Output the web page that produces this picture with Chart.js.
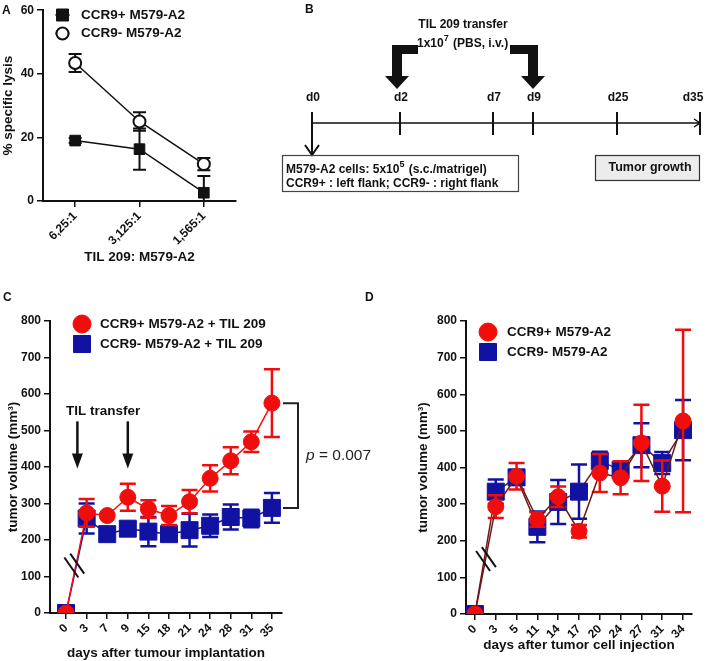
<!DOCTYPE html>
<html>
<head>
<meta charset="utf-8">
<title>CCR9 M579-A2 / TIL 209</title>
<script src="https://cdn.jsdelivr.net/npm/chart.js@4.4.1/dist/chart.umd.min.js"></script>
<style>
  body { margin: 0; background: #fff; }
  #wrap { position: relative; width: 709px; height: 661px; overflow: hidden; }
  canvas { position: absolute; }
  .tag { position: absolute; font: bold 12px 'Liberation Sans', Arial, sans-serif; color: #111; }
</style>
</head>
<body>
<div id="wrap">
  <canvas id="chartA" width="260" height="300" style="left:0;top:0"></canvas>
  <canvas id="chartB" width="439" height="200" style="left:270px;top:0"></canvas>
  <canvas id="chartC" width="380" height="376" style="left:0;top:285px"></canvas>
  <canvas id="chartD" width="309" height="376" style="left:400px;top:285px"></canvas>
  <div class="tag" style="left:2px;top:3px">A</div>
  <div class="tag" style="left:305px;top:2px">B</div>
  <div class="tag" style="left:3px;top:290px">C</div>
  <div class="tag" style="left:365px;top:290px">D</div>
</div>
<script>
// panel A - lysis
const ratioLabels = ['6,25:1', '3,125:1', '1,565:1'];
const lysisPos = [19, 16.3, 2.6];
const lysisPosErr = [0.8, 6.5, 5.3];
const lysisNeg = [43.4, 25, 11.6];
const lysisNegErr = [2.8, 2.9, 1.9];

// panel B - schedule
const timelineDays = ['d0', 'd2', 'd7', 'd9', 'd25', 'd35'];

// panel C - with TIL 209
const daysC = ['0', '3', '7', '9', '15', '18', '21', '24', '28', '31', '35'];
const volPosTil = [0, 274, 267, 317, 285, 267, 305, 369, 417, 469, 575];
const volPosTilErr = [0, 38, 0, 37, 24, 26, 32, 36, 37, 28, 93];
const volNegTil = [0, 259, 216, 231, 223, 216, 227, 239, 263, 259, 288];
const volNegTilErr = [0, 41, 8, 8, 40, 8, 45, 31, 34, 24, 41];

// panel D - no TIL
const daysD = ['0', '3', '5', '11', '14', '17', '20', '24', '27', '31', '34'];
const volPos = [0, 293, 376, 258, 320, 226, 385, 372, 467, 349, 527];
const volPosErr = [0, 31, 36, 20, 28, 17, 52, 45, 104, 70, 249];
const volNeg = [0, 334, 373, 238, 306, 334, 418, 393, 461, 412, 502];
const volNegErr = [0, 33, 20, 42, 60, 74, 25, 22, 60, 30, 82];

const FONT = "'Liberation Sans', Arial, sans-serif";
const RED = '#f20d0d';
const BLUE = '#1212a2';
const INK = '#111';

Chart.defaults.font.family = FONT;
Chart.defaults.font.weight = 'bold';
Chart.defaults.color = INK;
Chart.defaults.animation = false;
Chart.defaults.plugins.legend.display = false;
Chart.defaults.plugins.tooltip.enabled = false;

const yOf = d => (typeof d === 'object' ? d.y : d);
const toPoints = arr => arr.map((v, i) => ({ x: i, y: v }));

// error bars under each dataset's own markers
const errorBars = {
  id: 'errorBars',
  beforeDatasetDraw(chart, args) {
    const ds = chart.data.datasets[args.index];
    if (!ds.errors) return;
    const ctx = chart.ctx, a = chart.chartArea, y = chart.scales.y;
    ctx.save();
    ctx.beginPath();
    ctx.rect(a.left, 0, a.right - a.left, a.bottom);
    ctx.clip();
    ctx.strokeStyle = ds.errColor;
    ctx.lineWidth = ds.errWidth;
    args.meta.data.forEach((pt, i) => {
      const e = ds.errors[i];
      if (!e) return;
      const v = yOf(ds.data[i]);
      const hi = y.getPixelForValue(v + e);
      const lo = y.getPixelForValue(v - e);
      const w = ds.capWidth;
      ctx.beginPath();
      ctx.moveTo(pt.x, hi); ctx.lineTo(pt.x, lo);
      ctx.moveTo(pt.x - w, hi); ctx.lineTo(pt.x + w, hi);
      ctx.moveTo(pt.x - w, lo); ctx.lineTo(pt.x + w, lo);
      ctx.stroke();
    });
    ctx.restore();
  }
};

// legend drawn inside the plot
const keyBox = {
  id: 'keyBox',
  afterDraw(chart, args, o) {
    if (!o.x) return;
    const ctx = chart.ctx;
    chart.data.datasets.forEach((ds, i) => {
      const cx = o.x, cy = o.y + i * o.row, r = o.size[i];
      ctx.save();
      if (o.stub) {
        ctx.strokeStyle = ds.borderColor;
        ctx.lineWidth = 2;
        ctx.beginPath();
        ctx.moveTo(cx - o.stub, cy); ctx.lineTo(cx + o.stub, cy);
        ctx.stroke();
      }
      ctx.fillStyle = ds.pointBackgroundColor;
      ctx.strokeStyle = ds.pointBorderColor;
      ctx.lineWidth = ds.pointBorderWidth;
      ctx.beginPath();
      if (ds.pointStyle === 'rect') ctx.rect(cx - r, cy - r, 2 * r, 2 * r);
      else ctx.arc(cx, cy, r, 0, Math.PI * 2);
      ctx.fill();
      if (ds.pointBorderWidth) ctx.stroke();
      ctx.fillStyle = INK;
      ctx.font = 'bold ' + o.font + 'px ' + FONT;
      ctx.textBaseline = 'middle';
      ctx.textAlign = 'left';
      ctx.fillText(ds.label, o.tx, cy);
      ctx.restore();
    });
  }
};

// axis breaks, transfer arrows, p-value bracket
const notes = {
  id: 'notes',
  afterDatasetsDraw(chart, args, o) {
    const ctx = chart.ctx, a = chart.chartArea;
    const x = chart.scales.x, y = chart.scales.y;
    ctx.save();
    ctx.strokeStyle = INK;
    ctx.fillStyle = INK;
    if (o.brk) {
      const bx = x.getPixelForValue(o.brk[0]), by = y.getPixelForValue(o.brk[1]);
      ctx.lineWidth = 2;
      [-3.5, 3.5].forEach(d => {
        const ox = d * 0.83, oy = -d * 0.55;
        ctx.beginPath();
        ctx.moveTo(bx + ox - 7, by + oy - 10);
        ctx.lineTo(bx + ox + 7, by + oy + 10);
        ctx.stroke();
      });
    }
    (o.arrows || []).forEach(([xi, v0, v1]) => {
      const ax = x.getPixelForValue(xi), y0 = y.getPixelForValue(v0), y1 = y.getPixelForValue(v1);
      ctx.lineWidth = 2.5;
      ctx.beginPath(); ctx.moveTo(ax, y0); ctx.lineTo(ax, y1 - 12); ctx.stroke();
      ctx.beginPath();
      ctx.moveTo(ax - 5.5, y1 - 15); ctx.lineTo(ax + 5.5, y1 - 15); ctx.lineTo(ax, y1);
      ctx.closePath(); ctx.fill();
    });
    if (o.label) {
      ctx.font = 'bold 13.5px ' + FONT;
      ctx.textAlign = 'center';
      ctx.textBaseline = 'middle';
      ctx.fillText(o.label[0], x.getPixelForValue(o.label[1]), y.getPixelForValue(o.label[2]));
    }
    if (o.bracket) {
      const d0 = chart.data.datasets[0].data, d1 = chart.data.datasets[1].data;
      const yt = y.getPixelForValue(yOf(d0[d0.length - 1]));
      const yb = y.getPixelForValue(yOf(d1[d1.length - 1]));
      const x0 = a.right + 1, x1 = a.right + 16;
      ctx.strokeStyle = '#222';
      ctx.lineWidth = 2;
      ctx.beginPath();
      ctx.moveTo(x0, yt); ctx.lineTo(x1, yt); ctx.lineTo(x1, yb); ctx.lineTo(x0, yb);
      ctx.stroke();
      const ym = (yt + yb) / 2;
      ctx.fillStyle = '#222';
      ctx.textBaseline = 'middle';
      ctx.textAlign = 'left';
      ctx.font = 'italic 15.5px ' + FONT;
      ctx.fillText('p', x1 + 8, ym);
      const pw = ctx.measureText('p').width;
      ctx.font = '15.5px ' + FONT;
      ctx.fillText(' = 0.007', x1 + 8 + pw, ym);
    }
    ctx.restore();
  }
};

function axisX(labels, min, max, height, title, tsize) {
  return {
    type: 'linear', min: min, max: max,
    afterBuildTicks: s => { s.ticks = labels.map((l, i) => ({ value: i })); },
    afterFit: s => { s.height = height; },
    ticks: {
      autoSkip: false, minRotation: 45, maxRotation: 45, padding: 2,
      callback: v => labels[v], font: { size: tsize, weight: 'bold' }, color: INK
    },
    grid: { drawOnChartArea: false, tickLength: 6, color: INK, lineWidth: 1.5 },
    border: { color: INK, width: 2 },
    title: { display: true, text: title, font: { size: 13.5, weight: 'bold' }, color: INK, padding: { top: 0, bottom: 0 } }
  };
}

function axisY(max, step, width, title) {
  return {
    min: 0, max: max,
    afterFit: s => { s.width = width; },
    ticks: { stepSize: step, font: { size: 12, weight: 'bold' }, color: INK, padding: 3 },
    grid: { drawOnChartArea: false, tickLength: 6, color: INK, lineWidth: 1.5 },
    border: { color: INK, width: 2 },
    title: { display: true, text: title, font: { size: 13.5, weight: 'bold' }, color: INK, padding: { top: 0, bottom: 0 } }
  };
}

function series(label, data, errors, o) {
  return Object.assign({
    label: label, data: toPoints(data), errors: errors,
    borderWidth: 1.5, pointBorderWidth: 1, capWidth: 8, errWidth: 2.5
  }, o);
}

// A
new Chart(document.getElementById('chartA'), {
  type: 'line',
  data: {
    datasets: [
      series('CCR9+ M579-A2', lysisPos, lysisPosErr, {
        borderColor: INK, pointBackgroundColor: INK, pointBorderColor: INK,
        pointStyle: 'rect', pointRadius: 7.5, capWidth: 6.5, errWidth: 2, errColor: INK
      }),
      series('CCR9- M579-A2', lysisNeg, lysisNegErr, {
        borderColor: INK, pointBackgroundColor: '#fff', pointBorderColor: INK,
        pointStyle: 'circle', pointRadius: 6, pointBorderWidth: 2, capWidth: 6.5, errWidth: 2, errColor: INK
      })
    ]
  },
  options: {
    responsive: false,
    layout: { padding: { left: 0, top: 8, right: 24, bottom: 35 } },
    scales: {
      x: axisX(ratioLabels, -0.5, 2.5, 64, 'TIL 209: M579-A2', 12),
      y: axisY(60, 20, 43, '% specific lysis')
    },
    plugins: {
      keyBox: { x: 62.5, y: 15, row: 18.5, size: [6, 6], stub: 7, tx: 81, font: 13.5 }
    }
  },
  plugins: [errorBars, keyBox]
});

// B - treatment schedule
function supText(ctx, parts, x, y, size) {
  parts.forEach(p => {
    ctx.font = 'bold ' + (p[1] ? size * 0.75 : size) + 'px ' + FONT;
    ctx.fillText(p[0], x, p[1] ? y - 5 : y);
    x += ctx.measureText(p[0]).width + (p[1] ? 1 : 0);
  });
}

function bentArrow(ctx, pts) {
  ctx.beginPath();
  pts.forEach((p, i) => i ? ctx.lineTo(p[0], p[1]) : ctx.moveTo(p[0], p[1]));
  ctx.closePath();
  ctx.fill();
}

const schedule = {
  id: 'schedule',
  afterDraw(chart) {
    const ctx = chart.ctx;
    ctx.save();
    ctx.fillStyle = INK;
    ctx.strokeStyle = INK;
    ctx.textBaseline = 'middle';
    ctx.textAlign = 'center';
    ctx.font = 'bold 12px ' + FONT;
    ctx.fillText('TIL 209 transfer', 193, 25);
    ctx.textAlign = 'left';
    supText(ctx, [['1x10'], ['7', true], [' (PBS, i.v.)']], 147, 44, 12);

    bentArrow(ctx, [[148, 45], [122, 45], [122, 76], [115, 76], [127, 89], [139, 76], [132, 76], [132, 54], [148, 54]]);
    bentArrow(ctx, [[240, 45], [268, 45], [268, 76], [275, 76], [263, 89], [251, 76], [258, 76], [258, 54], [240, 54]]);

    const tx = [42, 130, 223, 263, 347, 430];
    ctx.lineWidth = 1.5;
    ctx.beginPath();
    ctx.moveTo(42, 123); ctx.lineTo(430, 123);
    ctx.moveTo(424, 119); ctx.lineTo(430, 123); ctx.lineTo(424, 127);
    ctx.stroke();
    ctx.lineWidth = 2;
    tx.forEach((px, i) => {
      ctx.beginPath();
      if (i === 0) {
        ctx.moveTo(px, 112); ctx.lineTo(px, 154);
        ctx.moveTo(px - 7, 145); ctx.lineTo(px, 155); ctx.lineTo(px + 7, 145);
      } else {
        ctx.moveTo(px, 112); ctx.lineTo(px, 135);
      }
      ctx.stroke();
      ctx.textAlign = 'center';
      ctx.font = 'bold 12px ' + FONT;
      ctx.fillText(timelineDays[i], Math.min(px + 1, 423), 98);
    });

    ctx.lineWidth = 1.2;
    ctx.strokeStyle = '#444';
    ctx.strokeRect(12.5, 155.5, 236, 36);
    ctx.textAlign = 'left';
    supText(ctx, [['M579-A2 cells: 5x10'], ['5', true], [' (s.c./matrigel)']], 16, 170, 12);
    ctx.font = 'bold 12px ' + FONT;
    ctx.fillText('CCR9+ : left flank; CCR9- : right flank', 16, 184);

    ctx.fillStyle = '#ececec';
    ctx.fillRect(325, 155, 105, 25);
    ctx.strokeStyle = '#333';
    ctx.strokeRect(325.5, 155.5, 104, 25);
    ctx.fillStyle = INK;
    ctx.textAlign = 'center';
    ctx.font = 'bold 12.5px ' + FONT;
    ctx.fillText('Tumor growth', 380, 168);
    ctx.restore();
  }
};

new Chart(document.getElementById('chartB'), {
  type: 'scatter',
  data: { datasets: [] },
  options: {
    responsive: false,
    scales: { x: { display: false }, y: { display: false } }
  },
  plugins: [schedule]
});

// C
new Chart(document.getElementById('chartC'), {
  type: 'line',
  data: {
    datasets: [
      series('CCR9+ M579-A2 + TIL 209', volPosTil, volPosTilErr, {
        borderColor: RED, pointBackgroundColor: RED, pointBorderColor: RED,
        pointStyle: 'circle', pointRadius: 8, errColor: RED
      }),
      series('CCR9- M579-A2 + TIL 209', volNegTil, volNegTilErr, {
        borderColor: BLUE, pointBackgroundColor: BLUE, pointBorderColor: BLUE,
        pointStyle: 'rect', pointRadius: 12, errColor: BLUE
      })
    ]
  },
  options: {
    responsive: false,
    layout: { padding: { left: 5, top: 36, right: 98, bottom: 0 } },
    scales: {
      x: axisX(daysC, -0.78, 10.49, 48, 'days after tumour implantation', 12),
      y: axisY(800, 100, 45, 'tumor volume (mm³)')
    },
    plugins: {
      keyBox: { x: 82, y: 39, row: 20, size: [9, 8.5], tx: 100, font: 13.5 },
      notes: {
        brk: [0.4, 130],
        arrows: [[0.55, 525, 396], [3, 525, 396]],
        label: ['TIL transfer', 1.8, 554],
        bracket: true
      }
    }
  },
  plugins: [errorBars, keyBox, notes]
});

// D
const MAROON = '#6a1a1a';
new Chart(document.getElementById('chartD'), {
  type: 'line',
  data: {
    datasets: [
      series('CCR9+ M579-A2', volPos, volPosErr, {
        borderColor: MAROON, pointBackgroundColor: RED, pointBorderColor: RED,
        pointStyle: 'circle', pointRadius: 8, errColor: RED
      }),
      series('CCR9- M579-A2', volNeg, volNegErr, {
        borderColor: MAROON, pointBackgroundColor: BLUE, pointBorderColor: BLUE,
        pointStyle: 'rect', pointRadius: 12, errColor: BLUE
      })
    ]
  },
  options: {
    responsive: false,
    layout: { padding: { left: 15, top: 36, right: 17, bottom: 8 } },
    scales: {
      x: axisX(daysD, -0.43, 10.43, 39, 'days after tumor cell injection', 12),
      y: axisY(800, 100, 51, 'tumor volume (mm³)')
    },
    plugins: {
      keyBox: { x: 88, y: 47, row: 20, size: [9, 8.5], tx: 107, font: 13.5 },
      notes: { brk: [0.53, 150] }
    }
  },
  plugins: [errorBars, keyBox, notes]
});
</script>
</body>
</html>
